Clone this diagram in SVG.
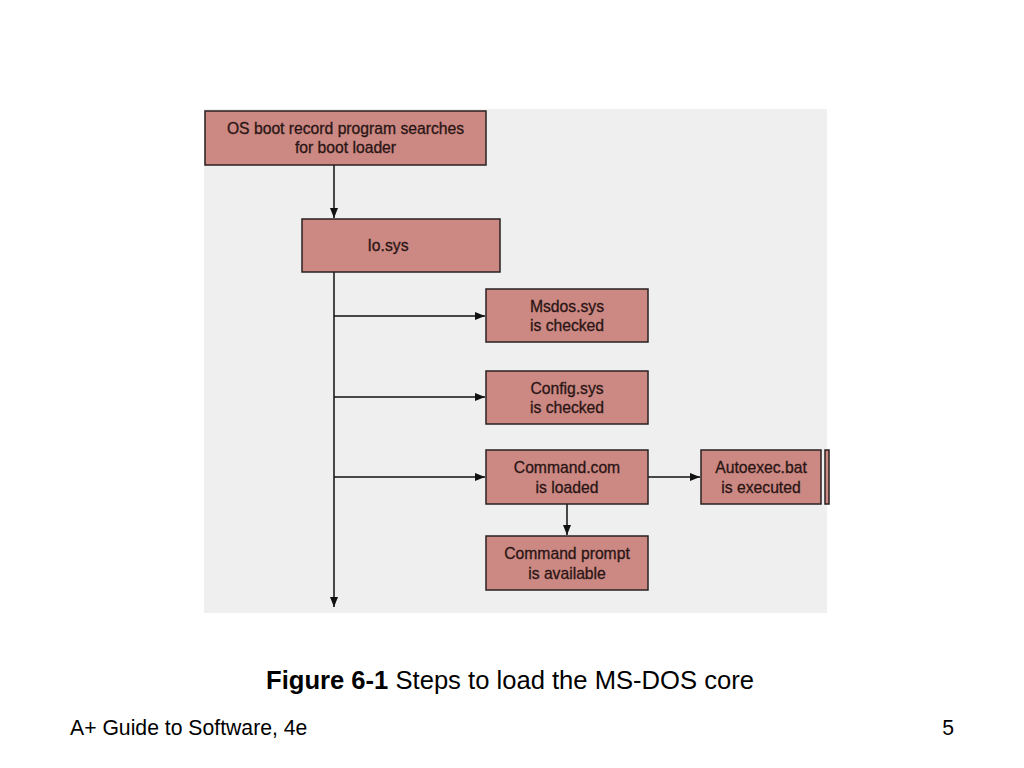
<svg xmlns="http://www.w3.org/2000/svg" width="1024" height="768" viewBox="0 0 1024 768">
<style>
.box{fill:#cc8882;stroke:#2a2020;stroke-width:1.5}
.t{font-family:"Liberation Sans",Arial,sans-serif;font-size:15.7px;fill:#2a1515;stroke:#2a1515;stroke-width:0.3;text-anchor:middle}
.c{stroke:#111;stroke-width:1.5;fill:none}
.cap{font-family:"Liberation Sans",Arial,sans-serif;font-size:25.6px;fill:#000}
.ft{font-family:"Liberation Sans",Arial,sans-serif;font-size:21.2px;fill:#000}
</style>
<defs>
<marker id="ah" markerWidth="10" markerHeight="8" refX="10" refY="4" orient="auto" markerUnits="userSpaceOnUse">
<path d="M0,0 L10,4 L0,8 Z" fill="#111"/>
</marker>
</defs>
<rect x="204" y="109" width="623" height="504" fill="#efefef"/>
<g id="connectors">
<line class="c" x1="334" y1="165" x2="334" y2="218" marker-end="url(#ah)"/>
<line class="c" x1="334" y1="272" x2="334" y2="607" marker-end="url(#ah)"/>
<line class="c" x1="334" y1="316" x2="485" y2="316" marker-end="url(#ah)"/>
<line class="c" x1="334" y1="397" x2="485" y2="397" marker-end="url(#ah)"/>
<line class="c" x1="334" y1="477" x2="485" y2="477" marker-end="url(#ah)"/>
<line class="c" x1="648" y1="477" x2="700" y2="477" marker-end="url(#ah)"/>
<line class="c" x1="567" y1="504" x2="567" y2="535" marker-end="url(#ah)"/>
</g>
<g id="n1"><rect class="box" x="205" y="111" width="281" height="54"/>
<text class="t" x="345.5" y="134">OS boot record program searches</text>
<text class="t" x="345.5" y="153">for boot loader</text></g>
<g id="n2"><rect class="box" x="302" y="219" width="198" height="53"/>
<text class="t" x="388" y="251">Io.sys</text></g>
<g id="n3"><rect class="box" x="486" y="289" width="162" height="53"/>
<text class="t" x="567" y="312">Msdos.sys</text>
<text class="t" x="567" y="331">is checked</text></g>
<g id="n4"><rect class="box" x="486" y="371" width="162" height="53"/>
<text class="t" x="567" y="394">Config.sys</text>
<text class="t" x="567" y="413">is checked</text></g>
<g id="n5"><rect class="box" x="486" y="450" width="162" height="54"/>
<text class="t" x="567" y="473">Command.com</text>
<text class="t" x="567" y="493">is loaded</text></g>
<g id="n6"><rect class="box" x="701" y="450" width="120" height="54"/>
<text class="t" x="761" y="473">Autoexec.bat</text>
<text class="t" x="761" y="493">is executed</text></g>
<g id="n7"><rect class="box" x="825" y="450" width="4" height="54"/></g>
<g id="n8"><rect class="box" x="486" y="536" width="162" height="54"/>
<text class="t" x="567" y="559">Command prompt</text>
<text class="t" x="567" y="579">is available</text></g>
<text class="cap" x="510" y="689" text-anchor="middle"><tspan font-weight="bold">Figure 6-1</tspan> Steps to load the MS-DOS core</text>
<text class="ft" x="70" y="735">A+ Guide to Software, 4e</text>
<text class="ft" x="954" y="735" text-anchor="end">5</text>
</svg>
